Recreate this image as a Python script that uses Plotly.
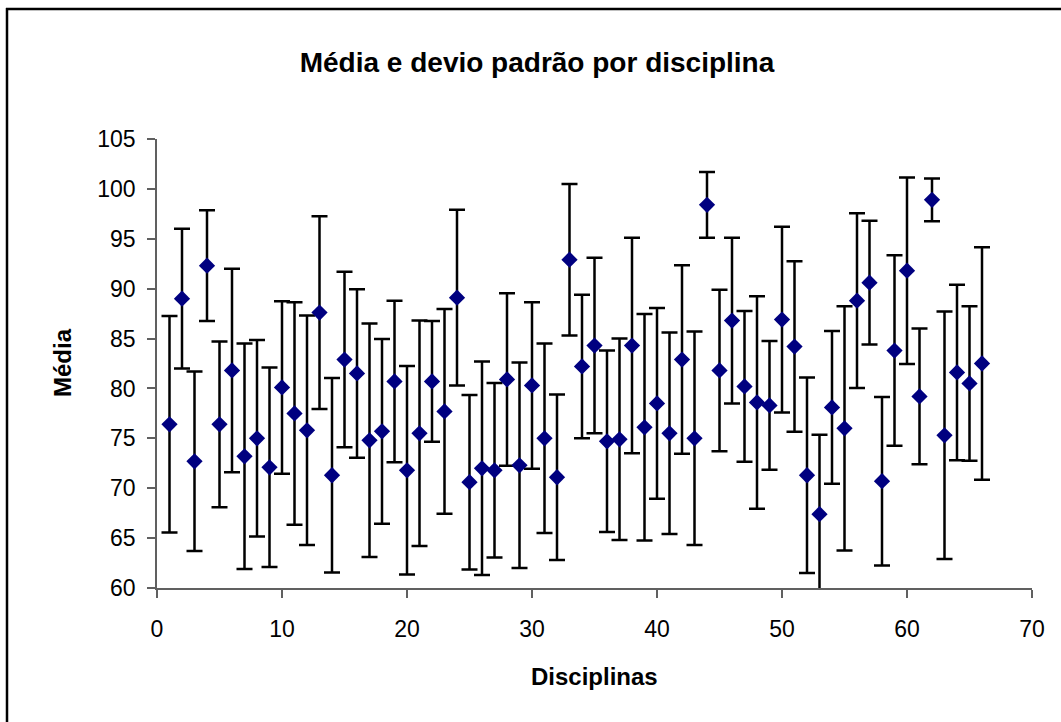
import plotly.graph_objects as go

disciplinas = list(range(1, 67))
medias = [76.4, 89.0, 72.7, 92.3, 76.4, 81.8, 73.2, 75.0, 72.1, 80.1,
          77.5, 75.8, 87.6, 71.3, 82.9, 81.5, 74.8, 75.7, 80.7, 71.8,
          75.5, 80.7, 77.7, 89.1, 70.6, 72.0, 71.8, 80.9, 72.3, 80.3,
          75.0, 71.1, 92.9, 82.2, 84.3, 74.7, 74.9, 84.3, 76.1, 78.5,
          75.5, 82.9, 75.0, 98.4, 81.8, 86.8, 80.2, 78.6, 78.3, 86.9,
          84.2, 71.3, 67.4, 78.1, 76.0, 88.8, 90.6, 70.7, 83.8, 91.8,
          79.2, 98.9, 75.3, 81.6, 80.5, 82.5]
desvios = [10.85, 7.0, 9.0, 5.55, 8.3, 10.2, 11.3, 9.85, 10.0, 8.65,
           11.15, 11.5, 9.65, 9.75, 8.8, 8.45, 11.7, 9.25, 8.1, 10.45,
           11.3, 6.05, 10.25, 8.8, 8.75, 10.7, 8.75, 8.65, 10.3, 8.35,
           9.5, 8.3, 7.6, 7.2, 8.8, 9.1, 10.1, 10.8, 11.35, 9.55,
           10.1, 9.45, 10.7, 3.3, 8.1, 8.3, 7.55, 10.65, 6.45, 9.3,
           8.55, 9.8, 7.95, 7.65, 12.25, 8.75, 6.2, 8.45, 9.55, 9.35,
           6.8, 2.15, 12.4, 8.8, 7.75, 11.65]

FONT = "Liberation Sans, Arial, sans-serif"

fig = go.Figure()
fig.add_trace(go.Scatter(
    x=disciplinas, y=medias, mode="markers",
    marker=dict(symbol="diamond", size=12.5, color="#000080"),
    error_y=dict(type="data", array=desvios, symmetric=True,
                 color="black", thickness=2.5, width=8),
    cliponaxis=False, showlegend=False,
))

W, H = 1061, 722
L, R, T, B = 157, 29, 139, 134
pw, ph = W - L - R, H - T - B

def px(xp):
    return (xp - L) / pw

def py(yp):
    return (H - B - yp) / ph

fig.update_layout(
    width=W, height=H,
    margin=dict(l=L, r=R, t=T, b=B),
    paper_bgcolor="white", plot_bgcolor="white",
    font=dict(family=FONT, color="black"),
    title=dict(text="<b>Média e devio padrão por disciplina</b>",
               x=537 / W, xanchor="center", xref="container",
               y=1 - 62 / H, yanchor="middle", yref="container",
               font=dict(size=28, family=FONT, color="black")),
    xaxis=dict(range=[0, 70], tickmode="linear", tick0=0, dtick=10,
               showgrid=False, zeroline=False, showline=True,
               linecolor="#606060", linewidth=1.5,
               ticks="outside", ticklen=8, tickcolor="#606060", tickwidth=1.5,
               ticklabelstandoff=12,
               tickfont=dict(size=23, family=FONT), fixedrange=True),
    yaxis=dict(range=[60, 105], tickmode="linear", tick0=60, dtick=5,
               showgrid=False, zeroline=False, showline=True,
               linecolor="#606060", linewidth=1.5,
               ticks="outside", ticklen=8, tickcolor="#606060", tickwidth=1.5,
               ticklabelstandoff=7,
               tickfont=dict(size=23, family=FONT), fixedrange=True),
    annotations=[
        dict(text="<b>Média</b>", textangle=-90, xref="paper", yref="paper",
             x=px(62), y=py(363), xanchor="center", yanchor="middle",
             showarrow=False, font=dict(size=24, family=FONT, color="black")),
        dict(text="<b>Disciplinas</b>", xref="paper", yref="paper",
             x=px(594), y=py(676), xanchor="center", yanchor="middle",
             showarrow=False, font=dict(size=24, family=FONT, color="black")),
    ],
    shapes=[
        dict(type="line", xref="paper", yref="paper",
             x0=px(7), x1=px(7), y0=py(8), y1=py(730),
             line=dict(color="black", width=2.5)),
        dict(type="line", xref="paper", yref="paper",
             x0=px(6), x1=px(1070), y0=py(9), y1=py(9),
             line=dict(color="black", width=2.5)),
    ],
)

fig.write_html("out.html", config={"displayModeBar": False},
               post_script="document.body.style.margin='0';")
